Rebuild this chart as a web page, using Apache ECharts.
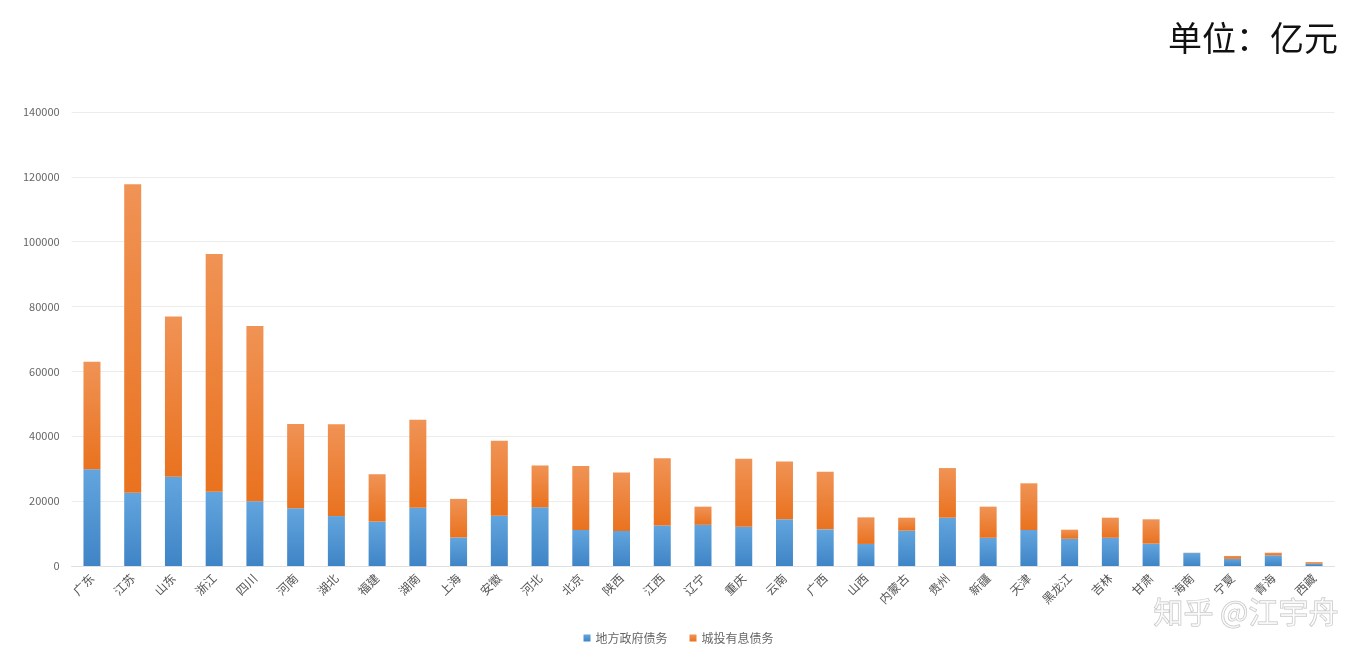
<!DOCTYPE html>
<html><head><meta charset="utf-8">
<script src="https://cdn.jsdelivr.net/npm/echarts@6/dist/echarts.min.js"></script>
<style>html,body{margin:0;padding:0;background:#fff;}#c{width:1357px;height:663px;}</style>
</head><body><div id="c"></div>
<script>
const categories = ['广东','江苏','山东','浙江','四川','河南','湖北','福建','湖南','上海','安徽','河北','北京','陕西','江西','辽宁','重庆','云南','广西','山西','内蒙古','贵州','新疆','天津','黑龙江','吉林','甘肃','海南','宁夏','青海','西藏'];
const govDebt = [29800,22600,27500,22900,20000,17800,15400,13700,18000,8800,15500,18100,11100,10800,12500,12700,12100,14400,11300,6800,10900,14900,8700,11100,8400,8700,6900,4000,2200,3300,700];
const lgfvDebt = [33200,95100,49400,73300,54000,26000,28300,14600,27100,11900,23100,12900,19700,18000,20700,5600,21000,17800,17800,8200,4000,15300,9600,14400,2800,6200,7500,100,900,800,500];
const yTicks = [0,20000,40000,60000,80000,100000,120000,140000];

const chart = echarts.init(document.getElementById('c'));
const grad = (a,b)=>new echarts.graphic.LinearGradient(0,0,0,1,[{offset:0,color:a},{offset:1,color:b}]);
chart.setOption({
  animation:false,
  textStyle:{fontFamily:'"Noto Sans CJK SC", "Noto Sans", sans-serif'},
  title:{text:'单位：亿元',right:14,top:16,textStyle:{fontSize:34,fontWeight:'normal',color:'#111',fontFamily:'"Noto Sans CJK SC"'}},
  legend:{bottom:14,left:'center',itemWidth:7,itemHeight:7,itemGap:22,icon:'rect',
    textStyle:{fontSize:12,color:'#666'},
    data:['地方政府债务','城投有息债务']},
  grid:{left:71.6,right:22.6,top:112,bottom:97,containLabel:false},
  xAxis:{type:'category',data:categories,
    axisLine:{lineStyle:{color:'#e0e0e0'}},axisTick:{show:false},
    axisLabel:{rotate:45,fontSize:12,color:'#555',margin:10,interval:0}},
  yAxis:{type:'value',min:yTicks[0],max:yTicks[yTicks.length-1],interval:20000,
    axisLine:{show:false},axisTick:{show:false},
    axisLabel:{fontSize:11,color:'#666',margin:12,formatter:v=>String(v)},
    splitLine:{lineStyle:{color:'#ececec'}}},
  series:[
    {name:'地方政府债务',type:'bar',stack:'t',barWidth:17,data:govDebt,
     itemStyle:{color:grad('#62a5de','#3f84c6')}},
    {name:'城投有息债务',type:'bar',stack:'t',barWidth:17,data:lgfvDebt,
     itemStyle:{color:grad('#f09355','#e9721f')}}
  ],
  graphic:[{type:'text',right:18,top:596,style:{text:'知乎 @江宇舟',fontSize:30,fill:'rgba(255,255,255,0.55)',stroke:'rgba(150,150,150,0.6)',lineWidth:1,fontFamily:'"Noto Sans CJK SC"'}}]
});
</script></body></html>
